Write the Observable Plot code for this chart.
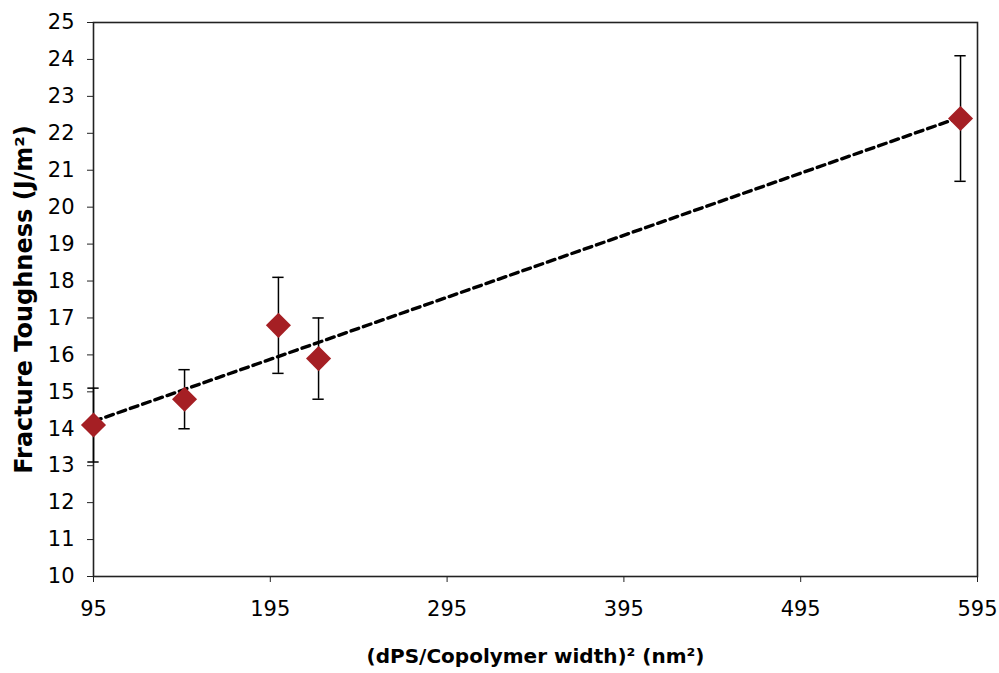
<!DOCTYPE html>
<html>
<head>
<meta charset="utf-8">
<script src="https://cdn.jsdelivr.net/npm/d3@7"></script>
<script src="https://cdn.jsdelivr.net/npm/@observablehq/plot@0.6"></script>
<style>
  html, body { margin: 0; padding: 0; background: #fff; }
</style>
</head>
<body>
<div id="chart"></div>
<script>
// Data
const widthSq = [95, 146.5, 199.6, 222.3, 585.4];        // (dPS/Copolymer width)^2 (nm^2)
const toughness = [14.1, 14.8, 16.8, 15.9, 22.4];        // J/m^2
const errLow = [13.1, 14.0, 15.5, 14.8, 20.7];
const errHigh = [15.1, 15.6, 18.1, 17.0, 24.1];
const xTicks = [95, 195, 295, 395, 495, 595];
const yTicks = [10, 11, 12, 13, 14, 15, 16, 17, 18, 19, 20, 21, 22, 23, 24, 25];
const xTitle = "(dPS/Copolymer width)\u00B2 (nm\u00B2)";
const yTitle = "Fracture Toughness (J/m\u00B2)";

const data = widthSq.map((x, i) => ({x, y: toughness[i], lo: errLow[i], hi: errHigh[i]}));
const capHalf = 3.2; // cap half-width in x units

const chart = Plot.plot({
  width: 999,
  height: 673,
  marginLeft: 93,
  marginRight: 22,
  marginTop: 22,
  marginBottom: 97,
  style: {fontFamily: "DejaVu Sans", fontSize: "20px", color: "#000", background: "#fff"},
  x: {domain: [95, 595]},
  y: {domain: [10, 25]},
  marks: [
    Plot.axisX({ticks: xTicks, tickSize: 6, tickPadding: 19, label: null, fontSize: 21, stroke: "#222"}),
    Plot.axisY({ticks: yTicks, tickSize: 6, tickPadding: 13, label: null, fontSize: 21, stroke: "#222"}),
    Plot.frame({stroke: "#222", strokeWidth: 1.6}),
    Plot.linearRegressionY(data, {x: "x", y: "y", ci: 0, stroke: "#000", strokeWidth: 3.4, strokeDasharray: "8,5"}),
    Plot.ruleX(data, {x: "x", y1: "lo", y2: "hi", stroke: "#000", strokeWidth: 1.5}),
    Plot.ruleY(data, {y: "lo", x1: d => d.x - capHalf, x2: d => d.x + capHalf, stroke: "#000", strokeWidth: 1.5}),
    Plot.ruleY(data, {y: "hi", x1: d => d.x - capHalf, x2: d => d.x + capHalf, stroke: "#000", strokeWidth: 1.5}),
    Plot.dot(data, {x: "x", y: "y", symbol: "diamond2", r: 11.3, fill: "#A51F24", stroke: "none"}),
    Plot.text([xTitle], {text: d => d, frameAnchor: "bottom", dy: 86, fontSize: 20, fontWeight: "bold", fill: "#000"}),
    Plot.text([yTitle], {text: d => d, frameAnchor: "left", textAnchor: "middle", dx: -69, rotate: -90, fontSize: 24, fontWeight: "bold", fill: "#000"})
  ]
});
document.getElementById("chart").append(chart);
</script>
</body>
</html>
